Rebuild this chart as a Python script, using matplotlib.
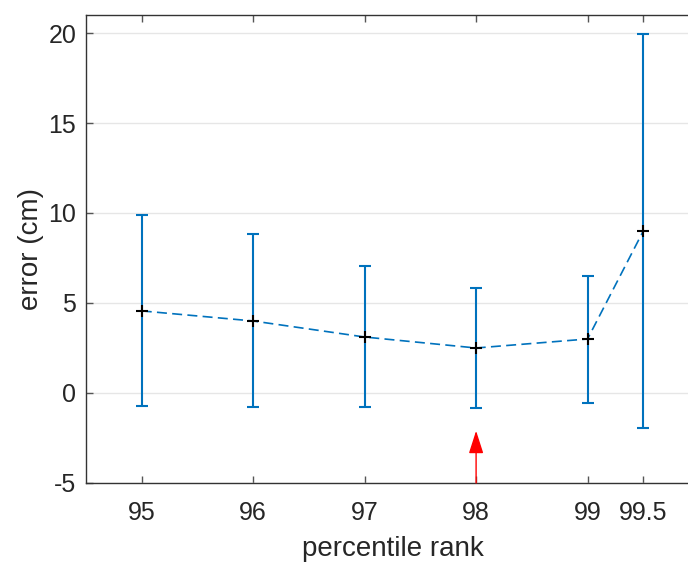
import matplotlib.pyplot as plt

plt.rcParams['font.family'] = ['Liberation Sans', 'DejaVu Sans']
plt.rcParams['lines.scale_dashes'] = False

# percentile rank threshold vs. error statistics
ranks = [95, 96, 97, 98, 99, 99.5]
mean_err = [4.56, 4.0, 3.11, 2.5, 3.0, 9.0]
upper = [9.89, 8.83, 7.06, 5.83, 6.5, 19.94]
lower = [-0.72, -0.78, -0.78, -0.83, -0.56, -1.94]
ytick_vals = [-5, 0, 5, 10, 15, 20]

best_rank = 98
arrow_tip = -2.1

yerr = [[m - lo for m, lo in zip(mean_err, lower)],
        [up - m for m, up in zip(mean_err, upper)]]

fig = plt.figure(figsize=(6.88, 5.62), dpi=100)
ax = fig.add_axes([0.125, 0.1406, 0.891, 0.8327])

ax.errorbar(ranks, mean_err, yerr=yerr, fmt='none', ecolor='#0072BD',
            elinewidth=1.5, capsize=4.5, capthick=1.5, zorder=3)
ax.plot(ranks, mean_err, ls=(0, (7.2, 3.8)), color='#0072BD', lw=1.2, zorder=4)
ax.plot(ranks, mean_err, '+', color='black', ms=8.5, mew=1.5, zorder=5)

ax.annotate('', xy=(best_rank, arrow_tip), xytext=(best_rank, -5),
            arrowprops=dict(arrowstyle='-|>,head_length=1.4,head_width=0.45',
                            color='red', lw=1.0, shrinkA=0, shrinkB=0),
            zorder=6)

ax.set_xlim(94.5, 100)
ax.set_ylim(-5, 21)
ax.set_xticks(ranks)
ax.set_xticklabels(['95', '96', '97', '98', '99', '99.5'])
ax.set_yticks(ytick_vals)
ax.set_yticklabels([str(v) for v in ytick_vals])
ax.yaxis.grid(True, color='#e6e6e6', lw=1.0)
ax.set_axisbelow(True)

ax.tick_params(direction='in', length=5, width=1, colors='#555555',
               labelcolor='#262626', labelsize=18, top=True, right=True)
ax.tick_params(axis='x', pad=13)
ax.tick_params(axis='y', pad=7)
for s in ax.spines.values():
    s.set_color('#333333')
    s.set_linewidth(1.0)

ax.set_xlabel('percentile rank', fontsize=20, color='#262626', labelpad=8)
ax.set_ylabel('error (cm)', fontsize=20, color='#262626', labelpad=3)

fig.savefig('out.png', dpi=100)
